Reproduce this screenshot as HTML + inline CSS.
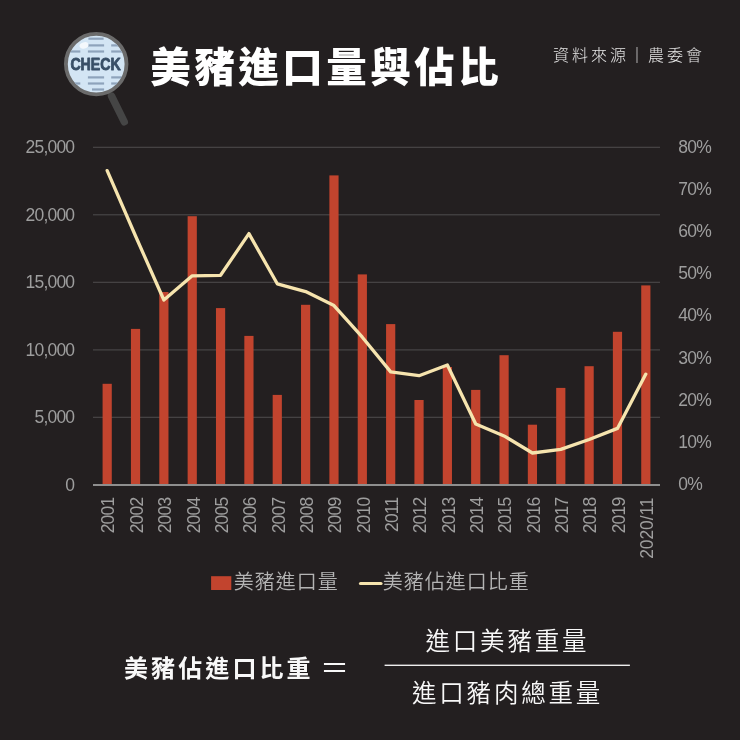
<!DOCTYPE html>
<html><head><meta charset="utf-8">
<style>
html,body{margin:0;padding:0;background:#231f20;}
body{width:740px;height:740px;overflow:hidden;position:relative;will-change:transform;font-family:"Liberation Sans","Noto Sans CJK TC",sans-serif;}
svg{position:absolute;left:0;top:0;}
.ax{font-family:"Liberation Sans","Noto Sans CJK TC",sans-serif;font-weight:400;font-size:17.5px;letter-spacing:-0.8px;fill:#9e9e9e;}
.title{position:absolute;left:150.3px;top:48.2px;font-family:"Liberation Sans","Noto Sans CJK TC",sans-serif;font-weight:900;font-size:40.5px;letter-spacing:3.5px;color:#fff;white-space:nowrap;line-height:1;}
.src{position:absolute;left:553px;top:48.4px;font-family:"Liberation Sans","Noto Sans CJK TC",sans-serif;font-weight:300;font-size:16px;color:#e6e6e6;letter-spacing:3px;white-space:nowrap;line-height:1;}
.lg{font-family:"Liberation Sans","Noto Sans CJK TC",sans-serif;font-weight:350;font-size:20px;letter-spacing:1px;fill:#b4b4b4;}
.fb{position:absolute;font-family:"Liberation Sans","Noto Sans CJK TC",sans-serif;font-weight:700;font-size:24px;letter-spacing:3.1px;color:#f8f8f8;white-space:nowrap;line-height:1;}
.fr{position:absolute;font-family:"Liberation Sans","Noto Sans CJK TC",sans-serif;font-weight:350;font-size:24.5px;color:#f8f8f8;white-space:nowrap;line-height:1;letter-spacing:2.8px;}
.eq{position:absolute;font-family:"Liberation Sans","Noto Sans CJK TC",sans-serif;font-weight:400;font-size:29px;color:#f8f8f8;white-space:nowrap;line-height:1;}
</style></head><body>
<svg width="740" height="740" viewBox="0 0 740 740">
<defs><clipPath id="lens"><circle cx="96.2" cy="64.1" r="28.4"/></clipPath></defs>
<line x1="111.5" y1="96" x2="124.3" y2="121.8" stroke="#454545" stroke-width="7.4" stroke-linecap="round"/>
<circle cx="96.2" cy="64.1" r="30.3" fill="#d3e5f4" stroke="#6b6b6b" stroke-width="3.8"/>
<g fill="#8ea3bb" clip-path="url(#lens)">
<rect x="88.4" y="37.6" width="15.2" height="2.2"/>
<rect x="87.9" y="44.3" width="16.2" height="2.2"/>
<rect x="66" y="50.4" width="14.3" height="2.2"/><rect x="87.9" y="50.4" width="16.2" height="2.2"/><rect x="111.2" y="50.4" width="14" height="2.2"/>
<rect x="111.2" y="44.3" width="14" height="2.2"/>
<rect x="87.9" y="76.3" width="16.2" height="2.2"/><rect x="111.2" y="76.3" width="14" height="2.2"/>
<rect x="66" y="82.4" width="14.3" height="2.2"/><rect x="87.9" y="82.4" width="16.2" height="2.2"/><rect x="111.2" y="82.4" width="14" height="2.2"/>
<rect x="92" y="88.4" width="12.1" height="2.2"/>
</g>
<ellipse cx="84" cy="45.4" rx="4.6" ry="3.1" fill="#f4f8fc" transform="rotate(-15 84 45.4)"/>
<text x="70.4" y="70.1" textLength="50.3" lengthAdjust="spacingAndGlyphs" font-family="Liberation Sans,sans-serif" font-weight="700" font-size="17.2" fill="#394f67" stroke="#394f67" stroke-width="0.9" stroke-linejoin="round">CHECK</text>
<rect x="93" y="146.75" width="567" height="1.1" fill="#4b494a"/>
<rect x="93" y="214.25" width="567" height="1.1" fill="#4b494a"/>
<rect x="93" y="281.75" width="567" height="1.1" fill="#4b494a"/>
<rect x="93" y="349.35" width="567" height="1.1" fill="#4b494a"/>
<rect x="93" y="416.75" width="567" height="1.1" fill="#4b494a"/>
<rect x="102.58" y="383.80" width="9.2" height="100.70" fill="#c2442e"/>
<rect x="130.93" y="328.90" width="9.2" height="155.60" fill="#c2442e"/>
<rect x="159.28" y="292.00" width="9.2" height="192.50" fill="#c2442e"/>
<rect x="187.63" y="216.20" width="9.2" height="268.30" fill="#c2442e"/>
<rect x="215.97" y="308.10" width="9.2" height="176.40" fill="#c2442e"/>
<rect x="244.33" y="335.90" width="9.2" height="148.60" fill="#c2442e"/>
<rect x="272.67" y="394.90" width="9.2" height="89.60" fill="#c2442e"/>
<rect x="301.02" y="304.80" width="9.2" height="179.70" fill="#c2442e"/>
<rect x="329.38" y="175.40" width="9.2" height="309.10" fill="#c2442e"/>
<rect x="357.72" y="274.40" width="9.2" height="210.10" fill="#c2442e"/>
<rect x="386.07" y="324.10" width="9.2" height="160.40" fill="#c2442e"/>
<rect x="414.43" y="400.00" width="9.2" height="84.50" fill="#c2442e"/>
<rect x="442.77" y="367.00" width="9.2" height="117.50" fill="#c2442e"/>
<rect x="471.12" y="389.90" width="9.2" height="94.60" fill="#c2442e"/>
<rect x="499.48" y="355.20" width="9.2" height="129.30" fill="#c2442e"/>
<rect x="527.82" y="424.70" width="9.2" height="59.80" fill="#c2442e"/>
<rect x="556.18" y="387.90" width="9.2" height="96.60" fill="#c2442e"/>
<rect x="584.52" y="366.20" width="9.2" height="118.30" fill="#c2442e"/>
<rect x="612.88" y="331.80" width="9.2" height="152.70" fill="#c2442e"/>
<rect x="641.23" y="285.40" width="9.2" height="199.10" fill="#c2442e"/>
<rect x="93" y="484" width="567" height="2" fill="#8e8e8e"/>
<polyline points="107.17,170.60 135.53,236.00 163.88,300.00 192.23,275.80 220.57,275.30 248.93,233.60 277.27,283.80 305.62,291.60 333.98,305.60 362.32,337.20 390.68,371.90 419.03,375.70 447.38,365.00 475.73,424.00 504.08,435.90 532.42,453.00 560.78,449.40 589.12,439.50 617.48,428.40 645.83,374.10" fill="none" stroke="#f6e4ae" stroke-width="3.3" stroke-linejoin="round" stroke-linecap="round"/>
<text x="74.3" y="153.40" text-anchor="end" class="ax">25,000</text>
<text x="74.3" y="220.90" text-anchor="end" class="ax">20,000</text>
<text x="74.3" y="288.40" text-anchor="end" class="ax">15,000</text>
<text x="74.3" y="355.90" text-anchor="end" class="ax">10,000</text>
<text x="74.3" y="423.40" text-anchor="end" class="ax">5,000</text>
<text x="74.3" y="490.90" text-anchor="end" class="ax">0</text>
<text x="678.3" y="490.10" class="ax">0%</text>
<text x="678.3" y="447.94" class="ax">10%</text>
<text x="678.3" y="405.78" class="ax">20%</text>
<text x="678.3" y="363.62" class="ax">30%</text>
<text x="678.3" y="321.46" class="ax">40%</text>
<text x="678.3" y="279.30" class="ax">50%</text>
<text x="678.3" y="237.14" class="ax">60%</text>
<text x="678.3" y="194.98" class="ax">70%</text>
<text x="678.3" y="152.82" class="ax">80%</text>
<text transform="translate(114.47,497.6) rotate(-90)" text-anchor="end" class="ax">2001</text>
<text transform="translate(142.83,497.6) rotate(-90)" text-anchor="end" class="ax">2002</text>
<text transform="translate(171.18,497.6) rotate(-90)" text-anchor="end" class="ax">2003</text>
<text transform="translate(199.53,497.6) rotate(-90)" text-anchor="end" class="ax">2004</text>
<text transform="translate(227.88,497.6) rotate(-90)" text-anchor="end" class="ax">2005</text>
<text transform="translate(256.23,497.6) rotate(-90)" text-anchor="end" class="ax">2006</text>
<text transform="translate(284.57,497.6) rotate(-90)" text-anchor="end" class="ax">2007</text>
<text transform="translate(312.93,497.6) rotate(-90)" text-anchor="end" class="ax">2008</text>
<text transform="translate(341.28,497.6) rotate(-90)" text-anchor="end" class="ax">2009</text>
<text transform="translate(369.62,497.6) rotate(-90)" text-anchor="end" class="ax">2010</text>
<text transform="translate(397.98,497.6) rotate(-90)" text-anchor="end" class="ax">2011</text>
<text transform="translate(426.33,497.6) rotate(-90)" text-anchor="end" class="ax">2012</text>
<text transform="translate(454.68,497.6) rotate(-90)" text-anchor="end" class="ax">2013</text>
<text transform="translate(483.03,497.6) rotate(-90)" text-anchor="end" class="ax">2014</text>
<text transform="translate(511.38,497.6) rotate(-90)" text-anchor="end" class="ax">2015</text>
<text transform="translate(539.72,497.6) rotate(-90)" text-anchor="end" class="ax">2016</text>
<text transform="translate(568.08,497.6) rotate(-90)" text-anchor="end" class="ax">2017</text>
<text transform="translate(596.42,497.6) rotate(-90)" text-anchor="end" class="ax">2018</text>
<text transform="translate(624.77,497.6) rotate(-90)" text-anchor="end" class="ax">2019</text>
<text transform="translate(653.12,497.6) rotate(-90)" text-anchor="end" class="ax" style="letter-spacing:-0.1px">2020/11</text>
<rect x="211.1" y="576.2" width="20.2" height="13.8" fill="#c2442e"/>
<text x="233.8" y="588.8" class="lg">美豬進口量</text>
<line x1="360.5" y1="583.5" x2="381" y2="583.5" stroke="#f6e4ae" stroke-width="3.2" stroke-linecap="round"/>
<text x="382.8" y="588.8" class="lg">美豬佔進口比重</text>
<rect x="384.6" y="664.6" width="245.3" height="1.4" fill="#ededed"/>
</svg>
<div class="title">美豬進口量與佔比</div>
<div class="src">資料來源｜農委會</div>
<div class="fb" style="left:124px;top:656.6px;">美豬佔進口比重</div>
<div class="eq" style="left:320px;top:654.6px;">＝</div>
<div class="fr" style="left:425.5px;top:629.7px;">進口美豬重量</div>
<div class="fr" style="left:412px;top:681.7px;">進口豬肉總重量</div>
</body></html>
